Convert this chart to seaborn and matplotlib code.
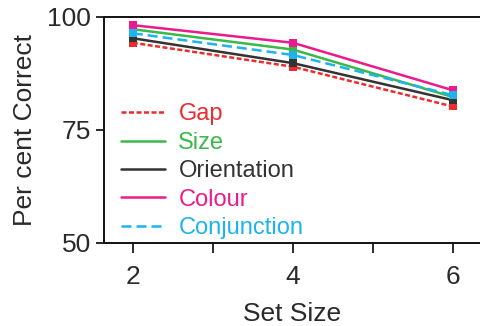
import matplotlib
matplotlib.use("Agg")
import matplotlib.pyplot as plt
import pandas as pd
import seaborn as sns

# Data
set_sizes = [2, 4, 6]
conditions = ['Gap', 'Size', 'Orientation', 'Colour', 'Conjunction']
gap = [94.3, 89.0, 80.2]
size = [97.3, 92.8, 82.3]
orientation = [95.3, 89.8, 81.6]
colour = [98.2, 94.3, 83.8]
conjunction = [96.4, 91.6, 82.7]

colors = {'Gap': '#ec2b2f', 'Size': '#3bb84a', 'Orientation': '#333333',
          'Colour': '#ec1a8c', 'Conjunction': '#1cb3ee'}
dashes = {'Gap': (2, 1), 'Size': '', 'Orientation': '', 'Colour': '',
          'Conjunction': (4, 2)}

df = pd.DataFrame({
  'set_size': set_sizes * 5,
  'condition': [c for c in conditions for _ in set_sizes],
  'pct': gap + size + orientation + colour + conjunction,
})

sns.set_style('ticks')
plt.rcParams['font.family'] = ['Liberation Sans', 'DejaVu Sans']

fig = plt.figure(figsize=(4.8, 3.26), dpi=100)
ax = fig.add_axes([104 / 480, 83 / 326, 1 - 104 / 480, (243 - 17) / 326])

sns.lineplot(data=df, x='set_size', y='pct', hue='condition', style='condition',
             hue_order=conditions, style_order=conditions, palette=colors,
             dashes=dashes, markers={c: 's' for c in conditions},
             markersize=6, markeredgewidth=0, linewidth=1.8, ax=ax)

text_color = '#2a2a2a'
ax.set_xlim(1.64, 6.34)
ax.set_ylim(50, 100)
ax.set_xticks([2, 3, 4, 5, 6])
ax.set_xticklabels(['2', '', '4', '', '6'])
ax.set_yticks([50, 75, 100])
ax.tick_params(axis='both', labelsize=19, width=1.4, colors=text_color)
ax.tick_params(axis='x', length=7, pad=9)
ax.tick_params(axis='y', length=5.5, pad=4)
ax.set_xlabel('Set Size', fontsize=19, color=text_color, labelpad=9)
ax.set_ylabel('Per cent Correct', fontsize=19, color=text_color, labelpad=7)
for side in ['left', 'bottom', 'top']:
  ax.spines[side].set_linewidth(1.4)
  ax.spines[side].set_color('#111111')
ax.spines['right'].set_visible(False)

leg = ax.legend(loc='lower left', bbox_to_anchor=(0.0, -0.055), frameon=False,
                fontsize=17, handlelength=1.9, handletextpad=0.55,
                labelspacing=0.27, borderaxespad=0.3)
for text, line in zip(leg.get_texts(), leg.get_lines()):
  text.set_color(colors[text.get_text()])
  line.set_marker('')

fig.savefig('out.png', dpi=100)
